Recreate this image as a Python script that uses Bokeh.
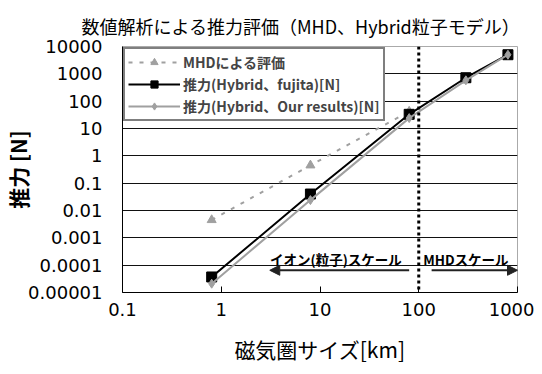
from bokeh.plotting import figure
from bokeh.models import (FixedTicker, Legend, LegendItem, Span, Arrow, NormalHead,
                          Label)
from bokeh.embed import file_html
from bokeh.resources import INLINE

# ---------------- data ----------------
size_km = [0.8, 8, 80, 300, 800]
mhd_size_km = [0.8, 8, 80]
mhd_thrust = [0.0045, 0.45, 42]
fujita_thrust = [0.000037, 0.04, 33, 720, 5000]
our_thrust = [0.000021, 0.024, 24, 580, 5000]

x_ticks = [0.1, 1, 10, 100, 1000]
x_tick_labels = ["0.1", "1", "10", "100", "1000"]
y_ticks = [0.00001, 0.0001, 0.001, 0.01, 0.1, 1, 10, 100, 1000, 10000]
y_tick_labels = ["0.00001", "0.0001", "0.001", "0.01", "0.1", "1", "10", "100", "1000", "10000"]

boundary_km = 100
ion_arrow = (80, 3.1)          # x from, x to
mhd_arrow = (135, 1000)
arrow_level = 0.000065
scale_text_level = 0.00017
ion_text_x = 14.5
mhd_text_x = 300

title_text = "数値解析による推力評価（MHD、Hybrid粒子モデル）"
x_label = "磁気圏サイズ[km]"
y_label = "推力 [N]"
series_names = ["MHDによる評価", "推力(Hybrid、fujita)[N]", "推力(Hybrid、Our results)[N]"]
ion_text = "イオン(粒子)スケール"
mhd_text = "MHDスケール"

JP = "Noto Sans CJK JP"

p = figure(width=534, height=366, x_axis_type="log", y_axis_type="log",
           x_range=(0.1, 1000), y_range=(0.00001, 10000),
           output_backend="svg", toolbar_location=None,
           min_border_left=119, min_border_right=17, min_border_top=46,
           min_border_bottom=66)

p.title.text = title_text
p.title.align = "left"
p.title.offset = -41
p.title.standoff = 16
p.title.text_line_height = 1.0
p.title.text_font = JP
p.title.text_font_size = "18px"
p.title.text_font_style = "normal"
p.title.text_color = "#000000"

p.outline_line_color = "#aaaaaa"
p.outline_line_width = 1
p.background_fill_color = "white"
p.border_fill_color = "white"

# axes
p.xaxis.ticker = FixedTicker(ticks=x_ticks, minor_ticks=[])
p.yaxis.ticker = FixedTicker(ticks=y_ticks, minor_ticks=[])
p.xaxis.major_label_overrides = {t: l for t, l in zip(x_ticks, x_tick_labels)}
p.yaxis.major_label_overrides = {t: l for t, l in zip(y_ticks, y_tick_labels)}
for ax in (p.xaxis, p.yaxis):
    ax.major_label_text_font = "DejaVu Sans"
    ax.major_label_text_font_size = "18px"
    ax.major_label_text_color = "#000000"
    ax.axis_line_color = "#000000"
    ax.axis_line_width = 1
    ax.major_tick_line_color = "#000000"
    ax.minor_tick_line_color = None
    ax.axis_label_text_font = JP
    ax.axis_label_text_color = "#000000"
p.xaxis.major_tick_in = 6
p.xaxis.major_tick_out = 0
p.yaxis.major_tick_in = 0
p.yaxis.major_tick_out = 0
p.xaxis.major_label_standoff = 10
p.yaxis.major_label_standoff = 20
p.xaxis.axis_label = x_label
p.yaxis.axis_label = y_label
p.xaxis.axis_label_text_font_size = "21px"
p.yaxis.axis_label_text_font_size = "21px"
p.xaxis.axis_label_standoff = 15
p.yaxis.axis_label_standoff = -8
p.xaxis.axis_label_text_font_style = "normal"
p.yaxis.axis_label_text_font_style = "bold"

p.xgrid.grid_line_color = None
p.ygrid.grid_line_color = "#111111"
p.ygrid.grid_line_width = 1

# series
r_mhd_l = p.line(mhd_size_km, mhd_thrust, line_color="#a0a0a0", line_width=2, line_dash="4 7")
r_mhd_m = p.scatter(mhd_size_km, mhd_thrust, marker="triangle", size=9,
                    fill_color="#a0a0a0", line_color="#a0a0a0")
r_fu_l = p.line(size_km, fujita_thrust, line_color="#000000", line_width=2)
r_fu_m = p.scatter(size_km, fujita_thrust, marker="square", size=10,
                   fill_color="#000000", line_color="#000000")
r_our_l = p.line(size_km, our_thrust, line_color="#a0a0a0", line_width=2)
r_our_m = p.scatter(size_km, our_thrust, marker="diamond", size=9,
                    fill_color="#a0a0a0", line_color="#a0a0a0")

# boundary line
p.add_layout(Span(location=boundary_km, dimension="height", line_color="#000000",
                  line_width=3, line_dash="3 3"))

# scale arrows
p.add_layout(Arrow(x_start=ion_arrow[0], y_start=arrow_level, x_end=ion_arrow[1], y_end=arrow_level,
                   line_color="#222222", line_width=2,
                   end=NormalHead(size=10, fill_color="#222222", line_color="#222222")))
p.add_layout(Arrow(x_start=mhd_arrow[0], y_start=arrow_level, x_end=mhd_arrow[1], y_end=arrow_level,
                   line_color="#222222", line_width=2,
                   end=NormalHead(size=10, fill_color="#222222", line_color="#222222")))
p.add_layout(Label(x=ion_text_x, y=scale_text_level, text=ion_text, text_font=JP,
                   text_font_size="13.5px", text_font_style="bold", text_align="center",
                   text_baseline="middle", text_color="#000000"))
p.add_layout(Label(x=mhd_text_x, y=scale_text_level, text=mhd_text, text_font=JP,
                   text_font_size="13.5px", text_font_style="bold", text_align="center",
                   text_baseline="middle", text_color="#000000"))

legend = Legend(items=[
    LegendItem(label=series_names[0], renderers=[r_mhd_l, r_mhd_m]),
    LegendItem(label=series_names[1], renderers=[r_fu_l, r_fu_m]),
    LegendItem(label=series_names[2], renderers=[r_our_l, r_our_m]),
], location="top_left")
legend.margin = 1
legend.padding = 3
legend.spacing = 2
legend.glyph_width = 52
legend.glyph_height = 18
legend.label_standoff = 3
legend.label_text_font = JP
legend.label_text_font_size = "14px"
legend.label_text_font_style = "bold"
legend.label_text_line_height = 0.9
legend.label_height = 18
legend.border_line_color = "#000000"
legend.border_line_width = 2
legend.background_fill_color = "white"
legend.background_fill_alpha = 1
p.add_layout(legend)

open("out.html", "w").write(file_html(p, INLINE))
